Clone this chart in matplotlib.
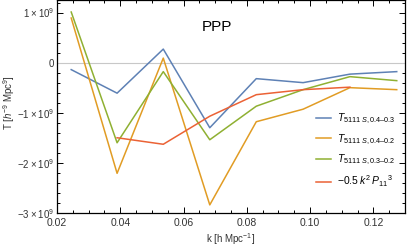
import numpy as np
import matplotlib
matplotlib.use('Agg')
import matplotlib.pyplot as plt
from matplotlib.ticker import MultipleLocator, FuncFormatter

plt.rcParams['font.family'] = 'Liberation Sans'
plt.rcParams['mathtext.fontset'] = 'custom'
plt.rcParams['mathtext.rm'] = 'Liberation Sans'
plt.rcParams['mathtext.it'] = 'Liberation Sans:italic'

# k bins (h/Mpc)
k = [0.0245, 0.0390, 0.0536, 0.0683, 0.0830, 0.0978, 0.1126, 0.1274]

# values in units of 1e9
t_04_03 = [-0.14, -0.61, 0.27, -1.30, -0.32, -0.40, -0.23, -0.18]
t_04_02 = [0.89, -2.21, 0.09, -2.84, -1.18, -0.93, -0.50, -0.54]
t_03_02 = [1.01, -1.60, -0.18, -1.54, -0.87, -0.54, -0.28, -0.36]
k_p11 = k[1:7]
p11_term = [-1.50, -1.63, -1.07, -0.64, -0.54, -0.49]

labels = [r'$T_{5111\;S,0.4\endash0.3}$', r'$T_{5111\;S,0.4\endash0.2}$',
          r'$T_{5111\;S,0.3\endash0.2}$', r'$-0.5\;k^2\,P_{11}{}^3$']
colors = ['#5E81B5', '#E19C24', '#8FB032', '#EB6235']

#####################################################################################################
def yfmt(v, pos):
    n = int(round(v / 1e9))
    if n == 0:
        return '0'
    s = '\u2212' if n < 0 else ''
    return s + '%d\u2009\u00d7\u200910$^{9}$' % abs(n)

fig = plt.figure(figsize=(4.07, 2.49), dpi=100)
ax = fig.add_axes([0.140, 0.145, 0.855, 0.853])

ax.axhline(0, color='#c8c8c8', lw=0.8)
series = [(k, t_04_03), (k, t_04_02), (k, t_03_02), (k_p11, p11_term)]
for (x, y), c, lab in zip(series, colors, labels):
    ax.plot(x, np.array(y) * 1e9, color=c, lw=1.1, label=lab)

ax.set_xlim(0.02, 0.13)
ax.set_ylim(-3.0e9, 1.24e9)
ax.xaxis.set_major_locator(MultipleLocator(0.02))
ax.xaxis.set_minor_locator(MultipleLocator(0.005))
ax.yaxis.set_major_locator(MultipleLocator(1e9))
ax.yaxis.set_minor_locator(MultipleLocator(0.2e9))
ax.xaxis.set_major_formatter(FuncFormatter(lambda v, p: '%.2f' % v))
ax.yaxis.set_major_formatter(FuncFormatter(yfmt))
ax.tick_params(which='both', direction='in', top=True, right=True, labelsize=7.5,
               labelcolor='#333333', width=0.7, pad=4)
ax.tick_params(axis='y', labelsize=7, pad=2)
ax.tick_params(which='major', length=4)
ax.tick_params(which='minor', length=2)
for sp in ax.spines.values():
    sp.set_linewidth(0.9)

ax.set_xlabel(r'k [h Mpc$^{-1}$]', fontsize=7, color='#333333', labelpad=2)
ax.set_ylabel(r'T [$h^{-9}$ Mpc$^{9}$]', fontsize=7, color='#333333')
ax.yaxis.set_label_coords(-0.115, 0.52)
ax.text(0.46, 0.875, 'PPP', transform=ax.transAxes, fontsize=11, ha='center', va='center')

ax.legend(loc='lower right', bbox_to_anchor=(1.0, 0.067), frameon=False, fontsize=7.5,
          handlelength=1.5, labelspacing=0.6, handletextpad=0.6)

plt.savefig('out.png', dpi=100)
